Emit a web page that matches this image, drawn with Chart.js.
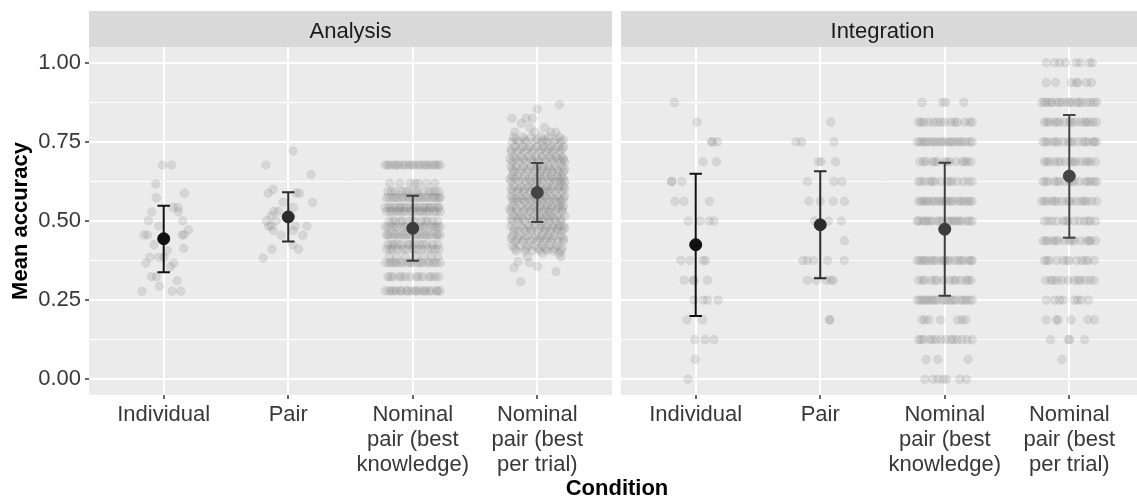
<!DOCTYPE html>
<html>
<head>
<meta charset="utf-8">
<script src="https://cdn.jsdelivr.net/npm/chart.js@4.4.0/dist/chart.umd.min.js"></script>
<style>
  html, body { margin: 0; padding: 0; background: #fff; overflow: hidden; }
  #wrap { position: relative; width: 1137px; height: 500px; overflow: hidden; }
  canvas { position: absolute; top: 0; }
  #left { left: 0; }
  #right { left: 621px; }
  #xtitle {
    position: absolute; left: 517px; width: 200px; top: 475px;
    text-align: center; font: bold 22px "Liberation Sans", Arial, sans-serif;
    line-height: 25px; color: #000;
  }
</style>
</head>
<body>
<div id="wrap">
  <canvas id="left" width="612" height="500"></canvas>
  <canvas id="right" width="523" height="500"></canvas>
  <div id="xtitle">Condition</div>
</div>
<script>
// conditions (x axis) and facets
const categories = [
  ['Individual'],
  ['Pair'],
  ['Nominal', 'pair (best', 'knowledge)'],
  ['Nominal', 'pair (best', 'per trial)']
];
const panels = ['Analysis', 'Integration'];
const yTickValues = [0, 0.25, 0.5, 0.75, 1];
const yMinorValues = [0.125, 0.375, 0.625, 0.875];

// mean and error bar per condition
const analysisMeans = [0.444, 0.513, 0.477, 0.590];
const analysisLower = [0.338, 0.435, 0.374, 0.497];
const analysisUpper = [0.548, 0.591, 0.580, 0.683];
const integrationMeans = [0.425, 0.488, 0.474, 0.642];
const integrationLower = [0.200, 0.319, 0.264, 0.447];
const integrationUpper = [0.649, 0.657, 0.684, 0.835];

// raw accuracies: [accuracy, [jitter offsets of the points at that accuracy]]
const analysisIndividual = [
  [0.677, [-0.010, 0.062]], [0.617, [-0.064]], [0.588, [0.166]], [0.573, [-0.059]],
  [0.543, [0.075, 0.115]], [0.529, [-0.096, 0.118]], [0.501, [-0.123, 0.153]],
  [0.484, [-0.040]], [0.472, [0.198]], [0.456, [-0.158, -0.129, 0.147, 0.163]],
  [0.425, [-0.078]], [0.414, [0.161]], [0.406, [0.030]], [0.385, [-0.112, -0.040, 0.002]],
  [0.367, [-0.145, 0.080]], [0.355, [0.054]], [0.324, [-0.099, -0.059]], [0.311, [0.107]],
  [0.294, [-0.035]], [0.278, [-0.174, 0.067, 0.137]]
];
const analysisPair = [
  [0.721, [0.038]], [0.677, [-0.179]], [0.647, [0.182]], [0.600, [-0.123]],
  [0.588, [-0.161, 0.062, 0.091]], [0.559, [-0.040, 0.195]], [0.543, [0.040]],
  [0.531, [-0.115, -0.078]], [0.516, [-0.137]], [0.501, [-0.174, -0.099]],
  [0.484, [-0.158, -0.137, 0.056, 0.150]], [0.470, [-0.120, 0.040]], [0.455, [-0.056, 0.118]],
  [0.424, [0.035]], [0.411, [-0.131, 0.083]], [0.383, [-0.201]]
];
const analysisKnowledge = [
  [0.677, [-0.22, -0.2, -0.18, -0.15, -0.13, -0.11, -0.08, -0.06, -0.03, -0.01, 0.01, 0.04, 0.06, 0.09, 0.11, 0.13, 0.16, 0.18, 0.2, 0.22]],
  [0.619, [-0.185, -0.104, -0.02, 0.016, 0.043, 0.11, 0.177]],
  [0.593, [-0.2, -0.17, -0.14, -0.09, -0.06, -0.03, 0.01, 0.04, 0.08, 0.13, 0.15, 0.18, 0.21]],
  [0.574, [-0.21, -0.19, -0.16, -0.14, -0.12, -0.09, -0.07, -0.04, -0.02, 0.0, 0.03, 0.05, 0.07, 0.1, 0.12, 0.15, 0.17, 0.19, 0.21, 0.22]],
  [0.543, [-0.22, -0.19, -0.17, -0.14, -0.11, -0.1, -0.07, -0.05, -0.02, 0.01, 0.02, 0.05, 0.08, 0.1, 0.13, 0.14, 0.17, 0.2, 0.21]],
  [0.530, [-0.21, -0.18, -0.16, -0.13, -0.11, -0.08, -0.06, -0.02, 0.0, 0.03, 0.06, 0.08, 0.11, 0.13, 0.17, 0.19, 0.22]],
  [0.500, [-0.19, -0.16, -0.14, -0.1, -0.08, -0.03, 0.0, 0.02, 0.07, 0.1, 0.12, 0.16, 0.2]],
  [0.482, [-0.22, -0.2, -0.17, -0.15, -0.13, -0.09, -0.07, -0.05, -0.01, 0.01, 0.03, 0.06, 0.08, 0.1, 0.14, 0.16, 0.18, 0.2, 0.22]],
  [0.456, [-0.21, -0.2, -0.18, -0.15, -0.13, -0.11, -0.08, -0.06, -0.04, -0.01, 0.02, 0.04, 0.06, 0.09, 0.11, 0.13, 0.16, 0.19, 0.2, 0.22]],
  [0.426, [-0.2, -0.17, -0.15, -0.12, -0.09, -0.04, -0.02, 0.01, 0.05, 0.08, 0.11, 0.16, 0.2]],
  [0.411, [-0.21, -0.18, -0.16, -0.12, -0.08, -0.05, 0.0, 0.04, 0.07, 0.12, 0.15, 0.18, 0.21]],
  [0.387, [-0.19, -0.13, -0.06, 0.03, 0.09, 0.15, 0.2]],
  [0.368, [-0.22, -0.19, -0.17, -0.15, -0.13, -0.1, -0.08, -0.04, -0.02, 0.0, 0.04, 0.06, 0.08, 0.12, 0.14, 0.17, 0.19, 0.22]],
  [0.324, [-0.2, -0.18, -0.16, -0.11, -0.09, -0.06, -0.02, 0.03, 0.05, 0.08, 0.13, 0.15, 0.18, 0.21]],
  [0.279, [-0.22, -0.19, -0.17, -0.15, -0.13, -0.1, -0.09, -0.05, -0.04, -0.01, 0.02, 0.03, 0.06, 0.09, 0.1, 0.13, 0.15, 0.19, 0.2, 0.22]]
];
const analysisPerTrial = [
  [0.868, [0.177]], [0.854, [0.0]], [0.825, [-0.203, -0.09, -0.038]], [0.809, [-0.128]],
  [0.795, [0.058, -0.06]], [0.781, [-0.18, 0.11, 0.15, -0.02]],
  [0.765, [-0.116, 0.177, -0.05, 0.03, 0.09, -0.19]],
  [0.757, [-0.17, -0.1, 0.0, 0.06, 0.15, 0.21]],
  [0.750, [-0.2, -0.15, -0.09, -0.02, 0.04, 0.08, 0.13, 0.19]],
  [0.735, [-0.18, -0.12, -0.06, 0.0, 0.05, 0.11, 0.17, 0.21]],
  [0.727, [-0.21, -0.14, -0.08, -0.03, 0.03, 0.09, 0.14, 0.2]],
  [0.719, [-0.21, -0.16, -0.1, -0.04, 0.02, 0.07, 0.12, 0.18]],
  [0.703, [-0.19, -0.13, -0.07, -0.01, 0.04, 0.1, 0.15, 0.2]],
  [0.696, [-0.22, -0.17, -0.11, -0.05, 0.0, 0.07, 0.12, 0.17, 0.21]],
  [0.688, [-0.2, -0.15, -0.09, -0.03, 0.01, 0.06, 0.13, 0.19, 0.22]],
  [0.672, [-0.21, -0.17, -0.11, -0.05, 0.0, 0.05, 0.09, 0.14, 0.2]],
  [0.664, [-0.2, -0.13, -0.07, -0.01, 0.04, 0.1, 0.16, 0.22]],
  [0.656, [-0.19, -0.14, -0.08, -0.02, 0.03, 0.08, 0.12, 0.17, 0.21]],
  [0.641, [-0.2, -0.16, -0.1, -0.04, 0.02, 0.06, 0.11, 0.16, 0.2]],
  [0.633, [-0.22, -0.18, -0.12, -0.06, -0.01, 0.03, 0.09, 0.13, 0.18, 0.21]],
  [0.625, [-0.21, -0.15, -0.09, -0.05, 0.0, 0.04, 0.1, 0.15, 0.19, 0.22]],
  [0.609, [-0.19, -0.13, -0.07, -0.02, 0.03, 0.08, 0.13, 0.18, 0.21]],
  [0.602, [-0.21, -0.15, -0.1, -0.04, 0.01, 0.07, 0.11, 0.17, 0.22]],
  [0.594, [-0.2, -0.16, -0.11, -0.06, -0.01, 0.05, 0.09, 0.14, 0.2]],
  [0.578, [-0.21, -0.14, -0.09, -0.03, 0.02, 0.06, 0.11, 0.16, 0.22]],
  [0.570, [-0.2, -0.17, -0.12, -0.07, -0.02, 0.04, 0.08, 0.13, 0.18, 0.21]],
  [0.562, [-0.19, -0.15, -0.1, -0.05, 0.0, 0.04, 0.1, 0.15, 0.19]],
  [0.547, [-0.2, -0.13, -0.07, -0.02, 0.03, 0.08, 0.12, 0.18, 0.21]],
  [0.539, [-0.22, -0.17, -0.1, -0.04, 0.01, 0.06, 0.11, 0.16, 0.2]],
  [0.531, [-0.21, -0.16, -0.11, -0.06, -0.01, 0.05, 0.09, 0.14, 0.2]],
  [0.516, [-0.19, -0.14, -0.08, -0.03, 0.02, 0.07, 0.11, 0.16, 0.22]],
  [0.508, [-0.21, -0.16, -0.12, -0.06, 0.0, 0.04, 0.09, 0.13, 0.19]],
  [0.500, [-0.2, -0.15, -0.1, -0.04, 0.01, 0.05, 0.1, 0.15, 0.19]],
  [0.484, [-0.21, -0.13, -0.07, -0.02, 0.03, 0.08, 0.13, 0.18, 0.21]],
  [0.477, [-0.18, -0.11, -0.05, 0.02, 0.06, 0.12, 0.16, 0.22]],
  [0.469, [-0.19, -0.15, -0.09, -0.05, 0.0, 0.06, 0.1, 0.16, 0.2]],
  [0.453, [-0.2, -0.14, -0.08, -0.01, 0.04, 0.09, 0.14, 0.19]],
  [0.445, [-0.21, -0.16, -0.1, -0.03, 0.02, 0.07, 0.12, 0.21]],
  [0.437, [-0.18, -0.12, -0.06, 0.0, 0.05, 0.11, 0.17, 0.21]],
  [0.422, [-0.2, -0.14, -0.07, -0.02, 0.04, 0.1, 0.16]],
  [0.414, [-0.18, -0.09, 0.01, 0.07, 0.14, 0.2]],
  [0.406, [-0.17, -0.1, -0.04, 0.02, 0.08, 0.13, 0.19]],
  [0.398, [0.04, 0.177]], [0.387, [0.19, -0.08]], [0.371, [-0.155]], [0.368, [-0.063]],
  [0.356, [0.0]], [0.352, [-0.187]], [0.340, [0.15]], [0.308, [-0.133]]
];
const integrationIndividual = [
  [0.875, [-0.171]], [0.8125, [0.011]], [0.75, [0.126, 0.134, 0.174]], [0.6875, [0.059, 0.166]],
  [0.625, [-0.193, -0.193, -0.112]], [0.5625, [-0.166, -0.094, 0.110]],
  [0.5, [-0.059, 0.035, 0.110, 0.147]], [0.375, [-0.120, -0.046, 0.059, 0.078]],
  [0.3125, [-0.094, -0.021, -0.013, 0.094]], [0.25, [-0.013, 0.062, 0.096, 0.180]],
  [0.1875, [-0.070, 0.056]], [0.125, [-0.008, 0.075, 0.147]], [0.0625, [-0.005]], [0, [-0.062]]
];
const integrationPair = [
  [0.8125, [0.085]], [0.75, [-0.195, -0.150, 0.110]], [0.6875, [-0.016, 0.008, 0.123]],
  [0.625, [-0.102, 0.110, 0.174]], [0.5625, [-0.091, 0.0, 0.104, 0.195]],
  [0.5, [-0.044, 0.066, 0.170]], [0.4375, [0.195]],
  [0.375, [-0.139, -0.104, -0.053, 0.059, 0.193]],
  [0.3125, [-0.104, -0.031, 0.049, 0.088, 0.104]], [0.1875, [0.074, 0.078]]
];
const integrationKnowledge = [
  [0.875, [-0.182, -0.018, 0.008, 0.153]],
  [0.8125, [-0.21, -0.19, -0.17, -0.13, -0.09, -0.06, -0.03, 0.0, 0.05, 0.08, 0.1, 0.16, 0.2, 0.22]],
  [0.75, [-0.22, -0.2, -0.18, -0.16, -0.14, -0.11, -0.09, -0.07, -0.04, -0.02, 0.0, 0.03, 0.05, 0.07, 0.1, 0.12, 0.14, 0.17, 0.2, 0.22]],
  [0.6875, [-0.2, -0.17, -0.15, -0.1, -0.08, -0.06, 0.0, 0.02, 0.04, 0.09, 0.14, 0.16, 0.18, 0.21]],
  [0.625, [-0.21, -0.19, -0.16, -0.12, -0.1, -0.08, -0.03, 0.02, 0.04, 0.06, 0.1, 0.15, 0.19, 0.22]],
  [0.5625, [-0.21, -0.19, -0.17, -0.15, -0.13, -0.1, -0.08, -0.05, -0.03, -0.01, 0.01, 0.03, 0.05, 0.07, 0.11, 0.13, 0.15, 0.18, 0.2, 0.22]],
  [0.5, [-0.22, -0.21, -0.18, -0.16, -0.14, -0.12, -0.1, -0.06, -0.04, -0.02, 0.02, 0.04, 0.06, 0.08, 0.1, 0.12, 0.14, 0.18, 0.2, 0.22]],
  [0.375, [-0.22, -0.2, -0.18, -0.16, -0.14, -0.11, -0.09, -0.07, -0.03, -0.01, 0.0, 0.02, 0.04, 0.08, 0.11, 0.13, 0.15, 0.19, 0.21, 0.22]],
  [0.3125, [-0.21, -0.18, -0.16, -0.11, -0.08, -0.06, -0.01, 0.04, 0.07, 0.09, 0.13, 0.17, 0.19, 0.21]],
  [0.25, [-0.22, -0.2, -0.18, -0.16, -0.14, -0.12, -0.1, -0.08, -0.06, -0.02, 0.0, 0.02, 0.05, 0.07, 0.09, 0.13, 0.15, 0.17, 0.2, 0.22]],
  [0.1875, [-0.182, -0.16, -0.126, -0.035, 0.102, 0.14, 0.169]],
  [0.125, [-0.21, -0.19, -0.17, -0.12, -0.1, -0.07, -0.03, 0.01, 0.05, 0.07, 0.1, 0.14, 0.18, 0.22]],
  [0.0625, [-0.15, -0.054, 0.187]],
  [0, [-0.16, -0.094, -0.054, -0.013, 0.013, 0.12, 0.174]]
];
const integrationPerTrial = [
  [1.0, [-0.185, -0.118, -0.078, -0.029, 0.056, 0.088, 0.163, 0.185]],
  [0.9375, [-0.185, -0.110, 0.016, 0.056, 0.070, 0.137, 0.177]],
  [0.875, [-0.22, -0.2, -0.18, -0.15, -0.14, -0.1, -0.08, -0.06, -0.02, 0.0, 0.02, 0.06, 0.08, 0.1, 0.14, 0.17, 0.2, 0.22]],
  [0.8125, [-0.2, -0.18, -0.16, -0.12, -0.1, -0.08, -0.04, 0.0, 0.02, 0.05, 0.09, 0.12, 0.14, 0.16, 0.19, 0.22]],
  [0.75, [-0.21, -0.19, -0.17, -0.13, -0.11, -0.09, -0.05, -0.01, 0.01, 0.03, 0.07, 0.11, 0.13, 0.15, 0.19, 0.2, 0.22]],
  [0.6875, [-0.2, -0.18, -0.16, -0.12, -0.09, -0.07, -0.03, 0.01, 0.03, 0.05, 0.09, 0.13, 0.15, 0.17, 0.21]],
  [0.625, [-0.21, -0.19, -0.17, -0.12, -0.1, -0.08, -0.04, 0.0, 0.02, 0.04, 0.08, 0.13, 0.15, 0.17, 0.2, 0.22]],
  [0.5625, [-0.22, -0.2, -0.18, -0.14, -0.12, -0.1, -0.06, -0.02, 0.0, 0.02, 0.06, 0.1, 0.12, 0.14, 0.18, 0.22]],
  [0.5, [-0.2, -0.17, -0.14, -0.1, -0.05, -0.03, -0.01, 0.04, 0.08, 0.12, 0.15, 0.17, 0.21]],
  [0.4375, [-0.21, -0.19, -0.17, -0.13, -0.11, -0.09, -0.04, 0.0, 0.02, 0.04, 0.09, 0.14, 0.16, 0.17, 0.21]],
  [0.375, [-0.2, -0.18, -0.16, -0.1, -0.05, -0.02, 0.0, 0.06, 0.1, 0.13, 0.15, 0.2]],
  [0.3125, [-0.19, -0.15, -0.13, -0.1, -0.06, -0.01, 0.04, 0.07, 0.09, 0.13, 0.17, 0.2]],
  [0.25, [-0.185, -0.118, -0.078, -0.051, 0.043, 0.070, 0.096, 0.155]],
  [0.1875, [-0.185, -0.104, -0.091, 0.016, 0.150, 0.203]],
  [0.125, [-0.150, -0.008, 0.003, 0.123]],
  [0.0625, [-0.059]]
];

const meanColors = ['#111111', '#2b2b2b', '#3c3c3c', '#444444'];
const FONT = '"Liberation Sans", Arial, sans-serif';

function jitterData(rows, cat) {
  const pts = [];
  rows.forEach(([y, offs]) => offs.forEach(dx => pts.push({ x: cat + dx, y: y })));
  return pts;
}

// hi cap, gap, vertical bar, gap, lo cap
function errorBarData(cat, lo, hi) {
  const w = 0.05;
  return [
    { x: cat - w, y: hi }, { x: cat + w, y: hi }, { x: cat, y: null },
    { x: cat, y: hi }, { x: cat, y: lo }, { x: cat, y: null },
    { x: cat - w, y: lo }, { x: cat + w, y: lo }
  ];
}

const stripPlugin = {
  id: 'strip',
  beforeDraw(chart, args, opts) {
    const { ctx, chartArea: a } = chart;
    ctx.save();
    ctx.fillStyle = '#EBEBEB';
    ctx.fillRect(a.left, a.top, a.right - a.left, a.bottom - a.top);
    ctx.fillStyle = '#D9D9D9';
    ctx.fillRect(a.left, 11, a.right - a.left, a.top - 11);
    ctx.fillStyle = '#1A1A1A';
    ctx.font = '22px ' + FONT;
    ctx.textAlign = 'center';
    ctx.textBaseline = 'alphabetic';
    ctx.fillText(opts.label, (a.left + a.right) / 2, 37.5);
    ctx.restore();
  }
};

function makeChart(canvasId, panel, pointRows, means, lower, upper, showY) {
  const datasets = [];
  pointRows.forEach((rows, i) => {
    datasets.push({
      data: jitterData(rows, i + 1),
      backgroundColor: 'rgba(128,128,128,0.2)',
      borderColor: 'rgba(128,128,128,0.12)',
      borderWidth: 1,
      pointRadius: 4.3,
      order: 3
    });
  });
  means.forEach((m, i) => {
    datasets.push({
      data: errorBarData(i + 1, lower[i], upper[i]),
      showLine: true,
      spanGaps: false,
      borderColor: meanColors[i],
      borderWidth: 2,
      pointRadius: 0,
      order: 2
    });
    datasets.push({
      data: [{ x: i + 1, y: m }],
      backgroundColor: meanColors[i],
      borderColor: meanColors[i],
      pointRadius: 6,
      order: 1
    });
  });

  const yAll = yTickValues.concat(yMinorValues).sort((a, b) => a - b);
  const isMajor = v => yTickValues.includes(v);

  return new Chart(document.getElementById(canvasId), {
    type: 'scatter',
    data: { datasets },
    plugins: [stripPlugin],
    options: {
      responsive: false,
      animation: false,
      events: [],
      layout: { autoPadding: false, padding: { top: 47, left: 0, right: 0, bottom: 0 } },
      plugins: {
        legend: { display: false },
        tooltip: { enabled: false },
        strip: { label: panel }
      },
      scales: {
        x: {
          type: 'linear',
          min: 0.4,
          max: 4.6,
          afterBuildTicks: s => { s.ticks = [1, 2, 3, 4].map(v => ({ value: v })); },
          afterFit: s => { s.height = 105; s.paddingLeft = 0; s.paddingRight = 0; },
          grid: { color: '#ffffff', lineWidth: 2, tickColor: '#333333', tickLength: 4, tickWidth: 1.5 },
          border: { display: false },
          ticks: {
            autoSkip: false,
            maxRotation: 0,
            padding: 3,
            color: '#383838',
            font: { family: FONT, size: 22, lineHeight: 1.15 },
            callback: v => categories[v - 1]
          }
        },
        y: {
          min: -0.05,
          max: 1.05,
          afterBuildTicks: s => { s.ticks = yAll.map(v => ({ value: v })); },
          afterFit: s => { s.width = showY ? 89 : 0; },
          grid: {
            color: '#ffffff',
            lineWidth: c => isMajor(c.tick.value) ? 2 : 1,
            drawTicks: showY,
            tickLength: 4,
            tickWidth: 1.5,
            tickColor: c => isMajor(c.tick.value) ? '#333333' : 'rgba(0,0,0,0)'
          },
          border: { display: false },
          ticks: {
            display: showY,
            padding: 4,
            color: '#383838',
            font: { family: FONT, size: 22 },
            callback: v => isMajor(v) ? v.toFixed(2) : ''
          },
          title: {
            display: showY,
            text: 'Mean accuracy',
            color: '#000000',
            font: { family: FONT, size: 22, weight: 'bold' },
            padding: { top: 8, bottom: 0 }
          }
        }
      }
    }
  });
}

makeChart('left', panels[0],
  [analysisIndividual, analysisPair, analysisKnowledge, analysisPerTrial],
  analysisMeans, analysisLower, analysisUpper, true);
makeChart('right', panels[1],
  [integrationIndividual, integrationPair, integrationKnowledge, integrationPerTrial],
  integrationMeans, integrationLower, integrationUpper, false);
</script>
</body>
</html>
